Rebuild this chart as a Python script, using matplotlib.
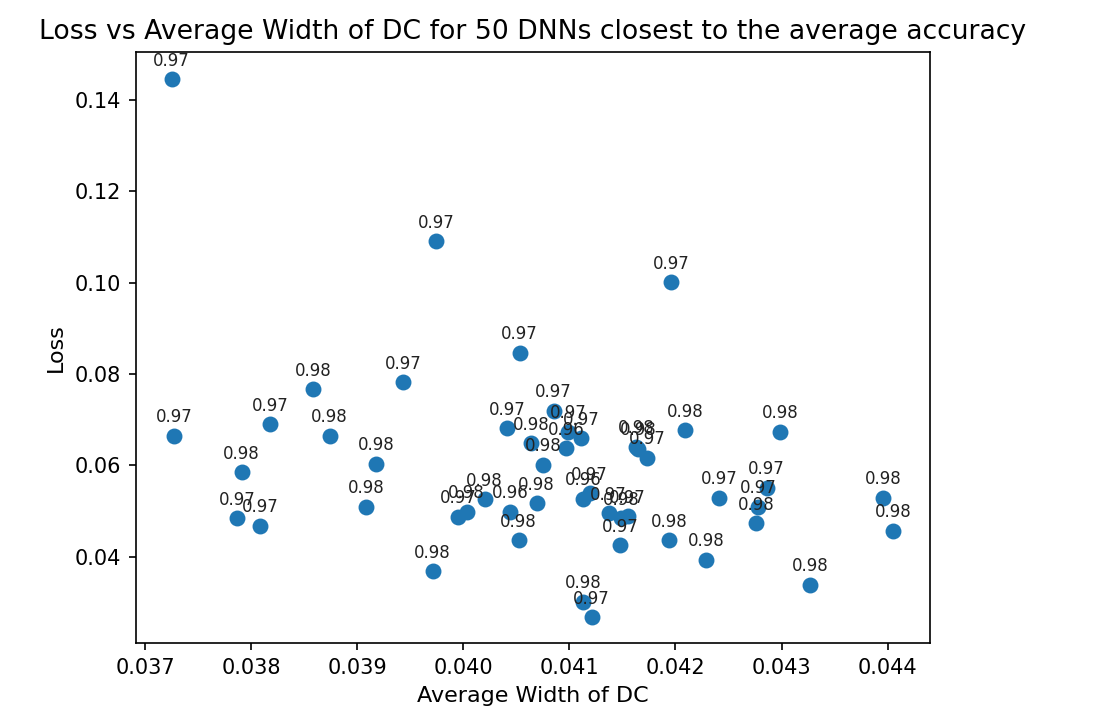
import matplotlib
matplotlib.use("Agg")
import matplotlib.pyplot as plt

# average width of the DC for each of the 50 DNNs
avg_width = [0.03725, 0.03727, 0.03791, 0.03787, 0.03808, 0.03818, 0.03858, 0.03874,
             0.03918, 0.03908, 0.03943, 0.03974, 0.03971, 0.04053, 0.04196, 0.04052,
             0.04041, 0.04085, 0.04064, 0.04097, 0.04111, 0.04099, 0.04075, 0.04163,
             0.04165, 0.04173, 0.04209, 0.04299, 0.04241, 0.04286, 0.04278, 0.04276,
             0.04229, 0.04396, 0.04405, 0.04327, 0.04194, 0.04148, 0.04113, 0.04119,
             0.04137, 0.04149, 0.04155, 0.04113, 0.04121, 0.03995, 0.04003, 0.04020,
             0.04044, 0.04069]
# loss
loss = [0.1446, 0.0665, 0.0585, 0.0484, 0.0467, 0.0690, 0.0767, 0.0665,
        0.0603, 0.0509, 0.0782, 0.1091, 0.0368, 0.0846, 0.1001, 0.0436,
        0.0681, 0.0720, 0.0648, 0.0637, 0.0659, 0.0673, 0.0601, 0.0640,
        0.0636, 0.0616, 0.0677, 0.0674, 0.0529, 0.0551, 0.0509, 0.0473,
        0.0393, 0.0529, 0.0456, 0.0338, 0.0436, 0.0425, 0.0527, 0.0539,
        0.0495, 0.0484, 0.0488, 0.0301, 0.0267, 0.0487, 0.0498, 0.0526,
        0.0498, 0.0517]
# accuracy shown above each point
accuracy = [0.97, 0.97, 0.98, 0.97, 0.97, 0.97, 0.98, 0.98,
            0.98, 0.98, 0.97, 0.97, 0.98, 0.97, 0.97, 0.98,
            0.97, 0.97, 0.98, 0.96, 0.97, 0.97, 0.98, 0.98,
            0.98, 0.97, 0.98, 0.98, 0.97, 0.97, 0.97, 0.98,
            0.98, 0.98, 0.98, 0.98, 0.98, 0.97, 0.96, 0.97,
            0.97, 0.98, 0.97, 0.98, 0.97, 0.97, 0.98, 0.98,
            0.96, 0.98]

fig = plt.figure(figsize=(1114 / 150, 716 / 150), dpi=150)
ax = fig.add_axes([0.1218, 0.1015, 0.7130, 0.8263])

ax.scatter(avg_width, loss, s=44)
for w, l, a in zip(avg_width, loss, accuracy):
    ax.annotate(f"{a:.2f}", (w, l), textcoords="offset points", xytext=(0, 6.5),
                ha="center", fontsize=8, color="#222222")

ax.set_xlim(0.03691, 0.04440)
ax.set_ylim(0.0210, 0.1506)
ax.set_title("Loss vs Average Width of DC for 50 DNNs closest to the average accuracy",
             fontsize=12.8)
ax.set_xlabel("Average Width of DC", fontsize=10.7)
ax.set_ylabel("Loss", fontsize=10.7)

fig.savefig("out.png", dpi=150)
